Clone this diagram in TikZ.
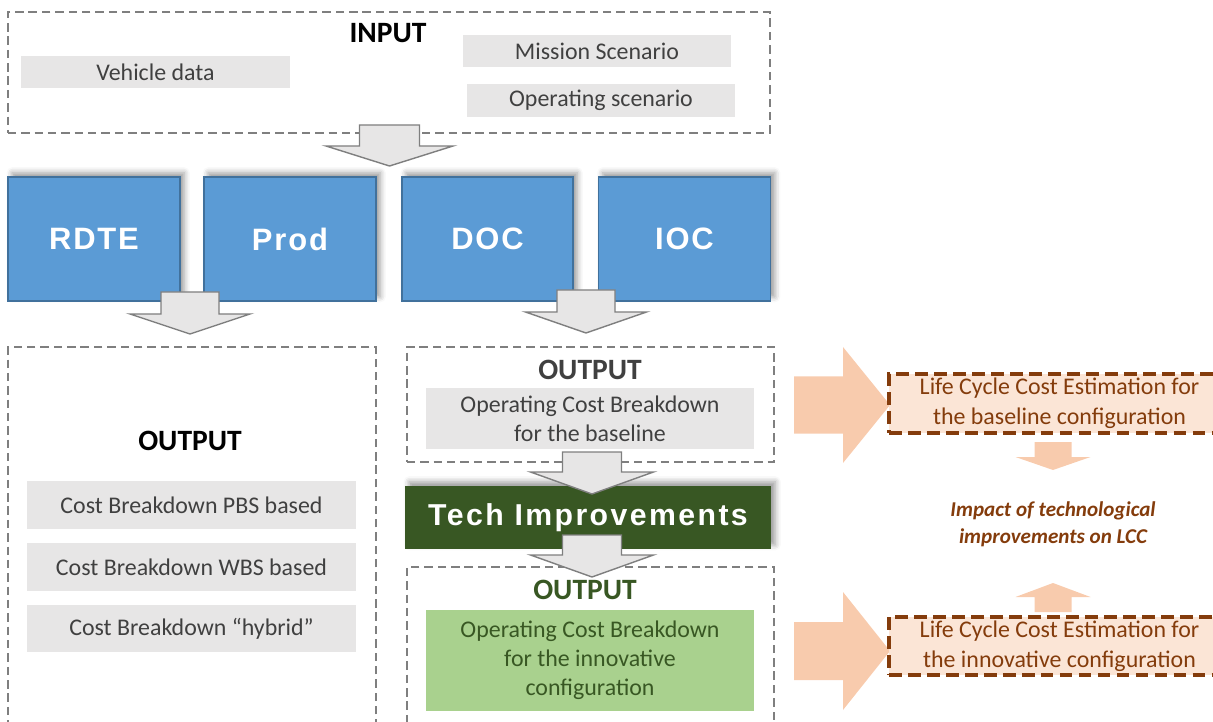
\documentclass[tikz,border=0pt]{standalone}
\usepackage{fontspec}
\setmainfont{Carlito}
\newfontfamily\blockfont[LetterSpace=6]{Liberation Sans}
\newfontfamily\techfont[LetterSpace=8]{Liberation Sans}
\usetikzlibrary{calc, shadows.blur}

\definecolor{dashgrey}{HTML}{7F7F7F}
\definecolor{boxgrey}{HTML}{E7E6E6}
\definecolor{textgrey}{HTML}{404040}
\definecolor{costblue}{HTML}{5B9BD5}
\definecolor{costedge}{HTML}{41719C}
\definecolor{techgreen}{HTML}{385723}
\definecolor{lightgreen}{HTML}{A9D18E}
\definecolor{peach}{HTML}{F8CBAD}
\definecolor{lightpeach}{HTML}{FBE5D6}
\definecolor{lccbrown}{HTML}{843C0C}

% block arrows: style, centre, start, head base, tip, shaft half width, head half width
\newcommand{\vblock}[7]{\path[#1] ({#2-#6},#3) -- ({#2-#6},#4) -- ({#2-#7},#4) -- (#2,#5)
  -- ({#2+#7},#4) -- ({#2+#6},#4) -- ({#2+#6},#3) -- cycle;}
\newcommand{\hblock}[7]{\path[#1] (#3,{#2-#6}) -- (#4,{#2-#6}) -- (#4,{#2-#7}) -- (#5,#2)
  -- (#4,{#2+#7}) -- (#4,{#2+#6}) -- (#3,{#2+#6}) -- cycle;}

\begin{document}
\begin{tikzpicture}[x=0.025cm, y=-0.025cm,
    dashbox/.style={draw=dashgrey, line width=1pt, dash pattern=on 6pt off 3.5pt, inner sep=0pt, outer sep=0pt},
    greybox/.style={fill=boxgrey, text=textgrey, inner sep=0pt, outer sep=0pt, align=center,
      font=\fontsize{17}{20.6}\selectfont},
    heading/.style={inner sep=0pt, font=\fontsize{21}{25}\selectfont\bfseries},
    costbox/.style={fill=costblue, draw=costedge, line width=0.8pt, text=white, inner sep=0pt,
      minimum width=4.3cm, minimum height=3.1cm, font=\blockfont\bfseries\fontsize{22}{26}\selectfont,
      blur shadow={shadow xshift=3pt, shadow yshift=3pt, shadow blur radius=4pt}},
    greyarrow/.style={fill=boxgrey, draw=dashgrey, line width=1pt},
    peacharrow/.style={fill=peach, draw=none},
    lccbox/.style={fill=lightpeach, draw=lccbrown, line width=2.3pt, dash pattern=on 9pt off 4.5pt,
      text=lccbrown, align=center, inner sep=0pt, minimum width=8.525cm,
      font=\fontsize{17}{21.3}\selectfont}]
  \useasboundingbox (0,0) rectangle (1213,722);

  \node[dashbox, minimum width=19.05cm, minimum height=3.025cm] (input) at (389,72.5) {};
  \node[heading] (inputlbl) at (388,33) {INPUT};
  \node[greybox, minimum width=6.725cm, minimum height=0.8cm] (vehicle) at (155.5,72) {Vehicle data};
  \node[greybox, minimum width=6.7cm, minimum height=0.8cm] (mission) at (597,51) {Mission Scenario};
  \node[greybox, minimum width=6.7cm, minimum height=0.825cm] (opscen) at (601,100.5) {Operating scenario};

  \node[costbox] (rdte) at (94,239) {RDTE};
  \node[costbox] (prod) at (290,239) {Prod};
  \node[costbox, minimum width=4.275cm] (doc) at (487.5,239) {DOC};
  \node[costbox] (ioc) at (684.5,239) {IOC};

  \node[dashbox, minimum width=9.2cm, minimum height=10cm] (outleft) at (192,547) {};
  \node[heading] (outleftlbl) at (190,441) {OUTPUT};
  \node[greybox, minimum width=8.225cm, minimum height=1.2cm] (pbs) at (191.5,505) {Cost Breakdown PBS based};
  \node[greybox, minimum width=8.225cm, minimum height=1.2cm] (wbs) at (191.5,567) {Cost Breakdown WBS based};
  \node[greybox, minimum width=8.225cm, minimum height=1.175cm] (hybrid) at (191.5,628.5) {Cost Breakdown ``hybrid''};

  \node[dashbox, minimum width=9.175cm, minimum height=2.875cm] (outbase) at (590.5,404.5) {};
  \node[heading, text=textgrey] (outbaselbl) at (590,370) {OUTPUT};
  \node[greybox, minimum width=8.2cm, minimum height=1.525cm] (ocbbase) at (590,418.5)
    {Operating Cost Breakdown\\for the baseline};

  \node[dashbox, minimum width=9.175cm, minimum height=5cm] (outinno) at (590.5,667) {};
  \node[heading, text=techgreen] (outinnolbl) at (585,590) {OUTPUT};
  \node[greybox, fill=lightgreen, text=techgreen, minimum width=8.2cm, minimum height=2.525cm] (ocbinno)
    at (590,660.5) {Operating Cost Breakdown\\for the innovative\\configuration};

  \node[fill=techgreen, text=white, inner sep=0pt, minimum width=9.15cm, minimum height=1.575cm,
    font=\techfont\bfseries\fontsize{21.5}{26}\selectfont,
    blur shadow={shadow xshift=3pt, shadow yshift=3pt, shadow blur radius=4pt}] (tech) at (588,517.5)
    {Tech Improvements};

  \vblock{greyarrow}{389.5}{125}{146}{166}{30}{63.5}
  \vblock{greyarrow}{190}{292}{314}{334}{29}{60}
  \vblock{greyarrow}{586}{290}{312}{333}{29}{60.5}
  \vblock{greyarrow}{592}{452}{472}{494}{29.5}{61.5}
  \vblock{greyarrow}{592}{535}{555}{577}{29.5}{61.5}

  \hblock{peacharrow}{405}{794}{843}{890}{28.5}{58}
  \hblock{peacharrow}{651}{794}{843}{890}{29}{59}

  \node[lccbox, minimum height=1.475cm] (lccbase) at (1059.5,403.5)
    {Life Cycle Cost Estimation for\\the baseline configuration};
  \node[lccbox, minimum height=1.45cm] (lccinno) at (1059.5,646)
    {Life Cycle Cost Estimation for\\the innovative configuration};

  \vblock{peacharrow}{1053}{442}{457}{470}{18.5}{37.5}
  \vblock{peacharrow}{1053}{612}{597}{583}{18.5}{37.5}

  \node[text=lccbrown, align=center, inner sep=0pt, font=\fontsize{15}{19.2}\selectfont\bfseries\itshape]
    (impact) at (1053,524) {Impact of technological\\improvements on LCC};
\end{tikzpicture}
\end{document}
